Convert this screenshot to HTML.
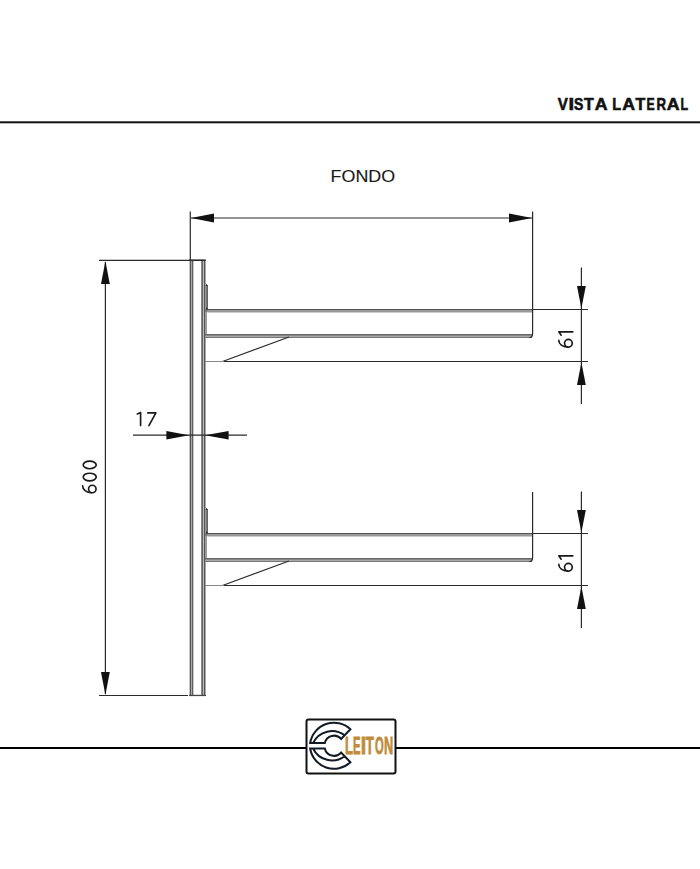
<!DOCTYPE html>
<html><head><meta charset="utf-8"><style>
html,body{margin:0;padding:0;background:#fff;width:700px;height:869px;overflow:hidden;}
svg{display:block;}
text{font-family:"Liberation Sans",sans-serif;}
</style></head><body>
<svg width="700" height="869" viewBox="0 0 700 869">
<rect x="0" y="0" width="700" height="869" fill="#fff"/>
<!-- header -->
<text transform="translate(557.70,109.50) scale(0.884,1)" font-size="17.15" font-weight="bold" fill="#111" stroke="#111" stroke-width="0.6">V</text>
<text transform="translate(568.45,109.50) scale(1.174,1)" font-size="17.15" font-weight="bold" fill="#111" stroke="#111" stroke-width="0.6">I</text>
<text transform="translate(573.90,109.50) scale(0.817,1)" font-size="17.15" font-weight="bold" fill="#111" stroke="#111" stroke-width="0.6">S</text>
<text transform="translate(584.12,109.50) scale(0.931,1)" font-size="17.15" font-weight="bold" fill="#111" stroke="#111" stroke-width="0.6">T</text>
<text transform="translate(594.86,109.50) scale(1.034,1)" font-size="17.15" font-weight="bold" fill="#111" stroke="#111" stroke-width="0.6">A</text>
<text transform="translate(612.34,109.50) scale(0.841,1)" font-size="17.15" font-weight="bold" fill="#111" stroke="#111" stroke-width="0.6">L</text>
<text transform="translate(622.36,109.50) scale(1.034,1)" font-size="17.15" font-weight="bold" fill="#111" stroke="#111" stroke-width="0.6">A</text>
<text transform="translate(635.62,109.50) scale(0.931,1)" font-size="17.15" font-weight="bold" fill="#111" stroke="#111" stroke-width="0.6">T</text>
<text transform="translate(646.48,109.50) scale(0.717,1)" font-size="17.15" font-weight="bold" fill="#111" stroke="#111" stroke-width="0.6">E</text>
<text transform="translate(656.41,109.50) scale(0.772,1)" font-size="17.15" font-weight="bold" fill="#111" stroke="#111" stroke-width="0.6">R</text>
<text transform="translate(666.86,109.50) scale(1.034,1)" font-size="17.15" font-weight="bold" fill="#111" stroke="#111" stroke-width="0.6">A</text>
<text transform="translate(680.47,109.50) scale(0.727,1)" font-size="17.15" font-weight="bold" fill="#111" stroke="#111" stroke-width="0.6">L</text>
<rect x="0" y="121.3" width="700" height="2" fill="#111"/>
<!-- panel -->
<g>
  <rect x="189" y="260" width="1" height="436" fill="#c4c4c4"/>
  <rect x="190" y="260" width="1" height="436" fill="#555"/>
  <rect x="191" y="260" width="1" height="436" fill="#aaa"/>
  <rect x="192" y="260" width="1" height="436" fill="#606060"/>
  <rect x="193" y="260" width="1" height="436" fill="#c8c8c8"/>
  <rect x="201" y="260" width="1" height="436" fill="#8a8a8a"/>
  <rect x="202" y="260" width="1" height="436" fill="#666"/>
  <rect x="203" y="260" width="1" height="436" fill="#bbb"/>
  <rect x="204" y="260" width="1" height="436" fill="#555"/>
  <rect x="205" y="260" width="1" height="436" fill="#aaa"/>
  <rect x="189" y="259.5" width="17" height="1.3" fill="#333"/>
  <rect x="189" y="694.8" width="17" height="1.3" fill="#444"/>
</g>
<!-- FONDO -->
<text x="330.6" y="182" font-size="17.3" fill="#1a1a1a" stroke="#1a1a1a" stroke-width="0.15" textLength="64.5" lengthAdjust="spacingAndGlyphs">FONDO</text>
<g fill="none" stroke="#2a2a2a" stroke-width="1.2">
  <line x1="190.3" y1="211.5" x2="190.3" y2="260"/>
  <line x1="532.6" y1="211.5" x2="532.6" y2="268"/>
  <line x1="191" y1="218" x2="532" y2="218"/>
  <line x1="99" y1="260.3" x2="205" y2="260.3"/>
  <line x1="99" y1="695.5" x2="188" y2="695.5"/>
  <line x1="105.4" y1="262" x2="105.4" y2="694"/>
  <line x1="133" y1="435.2" x2="247" y2="435.2"/>
</g>
<g fill="#111">
  <path d="M191,218 L214,213.6 L214,222.4 Z"/>
  <path d="M532,218 L509,213.6 L509,222.4 Z"/>
  <path d="M105.4,261 L101,284 L109.8,284 Z"/>
  <path d="M105.4,695 L101,672 L109.8,672 Z"/>
  <path d="M189,435.2 L166.4,431 L166.4,439.5 Z"/>
  <path d="M205,435.2 L228.6,431 L228.6,439.5 Z"/>
</g>
<!-- 600 -->
<g fill="none" stroke="#1a1a1a" stroke-width="1.65" stroke-linecap="round">
  <ellipse cx="89.7" cy="464.9" rx="6.5" ry="3.8"/>
  <ellipse cx="89.7" cy="477" rx="6.5" ry="3.8"/>
  <circle cx="92.3" cy="489" r="3.75"/>
  <path d="M82.6,485.8 A8.8,6.95 0 0 0 91.4,492.75"/>
</g>
<!-- 17 -->
<g fill="none" stroke="#1a1a1a" stroke-width="1.65" stroke-linecap="round" stroke-linejoin="round">
  <path d="M137.3,414 L140.6,412.6 L140.6,425.6"/>
  <path d="M147.8,412.9 L155.9,412.9 L148.9,425.6"/>
</g>
<!-- shelves -->
<g id="shelf">
  <rect x="205.5" y="285" width="2" height="24" fill="#8a8a8a"/>
  <rect x="206.8" y="285" width="0.9" height="24" fill="#3a3a3a"/>
  <path d="M205.6,286 L206.6,283.5 L207.7,286 Z" fill="#333"/>
  <rect x="205.2" y="309" width="2.4" height="3" fill="#7a7a7a"/>
  <rect x="205.2" y="312" width="1.8" height="25" fill="#9a9a9a"/>
  <path d="M206.2,308 L208.6,311.2" stroke="#222" stroke-width="1.1" fill="none"/>
  <rect x="207.5" y="309" width="324.5" height="1" fill="#555"/>
  <rect x="207.5" y="310" width="324.5" height="2" fill="#999"/>
  <rect x="207.5" y="312" width="324.5" height="1" fill="#ccc"/>
  <rect x="205" y="334" width="327" height="1" fill="#666"/>
  <rect x="205" y="335" width="327" height="1" fill="#888"/>
  <rect x="205" y="336" width="327" height="1" fill="#aaa"/>
  <rect x="205" y="337" width="327" height="1" fill="#777"/>
  <g fill="none" stroke="#2a2a2a" stroke-width="1.2">
    <path d="M532.6,268 L532.6,334 Q532.6,337.3 529.5,337.6"/>
    <line x1="533" y1="309.5" x2="588" y2="309.5"/>
    <line x1="224" y1="361.5" x2="588" y2="361.5"/>
    <line x1="222.5" y1="361.5" x2="289" y2="337"/>
    <line x1="581.4" y1="267.4" x2="581.4" y2="404"/>
  </g>
  <line x1="205" y1="361.5" x2="224" y2="361.5" stroke="#888" stroke-width="1"/>
  <path d="M581.4,308.5 L577,286 L585.8,286 Z" fill="#111"/>
  <path d="M581.4,362.5 L577,385 L585.8,385 Z" fill="#111"/>
</g>
<use href="#shelf" transform="translate(0,224)"/>
<g fill="none" stroke="#1a1a1a" stroke-width="1.65" stroke-linecap="round" transform="translate(0,0)">
  <path d="M558.8,331.8 L572.9,331.8 M558.8,331.8 L561.2,335.2"/>
  <circle cx="568.4" cy="343.2" r="3.85"/>
  <path d="M558.8,340.4 A8.7,6.65 0 0 0 567.5,347.05"/>
</g>
<g fill="none" stroke="#1a1a1a" stroke-width="1.65" stroke-linecap="round" transform="translate(0,224)">
  <path d="M558.8,331.8 L572.9,331.8 M558.8,331.8 L561.2,335.2"/>
  <circle cx="568.4" cy="343.2" r="3.85"/>
  <path d="M558.8,340.4 A8.7,6.65 0 0 0 567.5,347.05"/>
</g>
<!-- footer -->
<rect x="0" y="747" width="306" height="2" fill="#000"/>
<rect x="395" y="747" width="305" height="2" fill="#000"/>
<rect x="306.5" y="719.5" width="89" height="54" rx="2" fill="#fff" stroke="#111" stroke-width="2"/>
<g fill="none" stroke="#121c26" stroke-width="2" stroke-linejoin="miter">
  <path id="halfC" d="M350.4,729.3 A24.05,24.05 0 0 0 310.15,743 L324.8,743 A9.44,9.44 0 0 1 341.1,738.9 Z M313.1,743 A20.9,20.9 0 0 1 344.6,735.3"/>
  <use href="#halfC" transform="translate(0,1491.5) scale(1,-1)"/>
</g>
<text transform="translate(345.03,754.40) scale(0.544,1)" font-size="23.98" font-weight="bold" fill="#c08c3a" stroke="#c08c3a" stroke-width="0.8">L</text>
<text transform="translate(353.05,754.40) scale(0.468,1)" font-size="23.98" font-weight="bold" fill="#c08c3a" stroke="#c08c3a" stroke-width="0.8">E</text>
<text transform="translate(360.70,754.40) scale(0.811,1)" font-size="23.98" font-weight="bold" fill="#c08c3a" stroke="#c08c3a" stroke-width="0.8">I</text>
<text transform="translate(365.85,754.40) scale(0.552,1)" font-size="23.98" font-weight="bold" fill="#c08c3a" stroke="#c08c3a" stroke-width="0.8">T</text>
<text transform="translate(374.94,754.40) scale(0.468,1)" font-size="23.98" font-weight="bold" fill="#c08c3a" stroke="#c08c3a" stroke-width="0.8">O</text>
<text transform="translate(383.95,754.40) scale(0.532,1)" font-size="23.98" font-weight="bold" fill="#c08c3a" stroke="#c08c3a" stroke-width="0.8">N</text>
</svg>
</body></html>
